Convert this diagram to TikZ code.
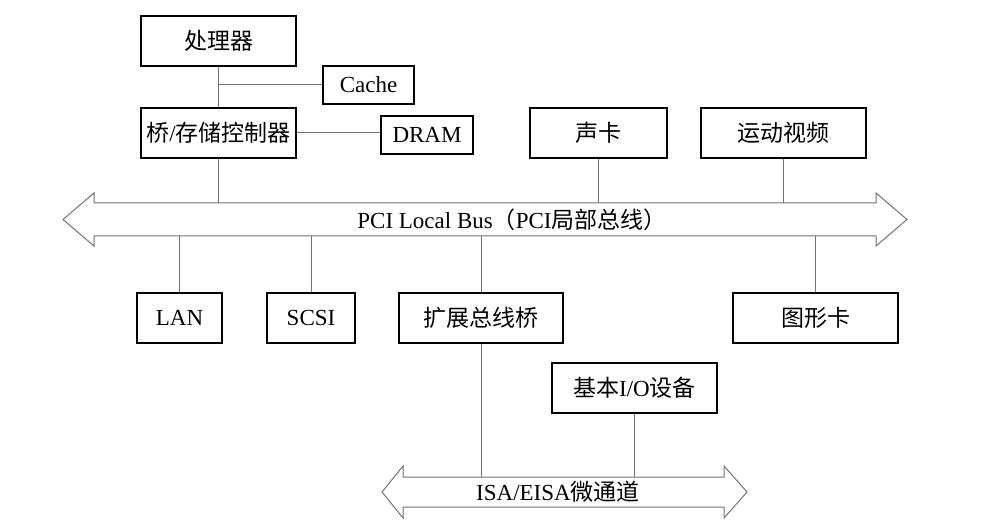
\documentclass[tikz,border=0pt]{standalone}
\usepackage{fontspec}
\setmainfont{Liberation Serif}
\newfontfamily\cjk{Noto Sans CJK SC}
\tikzset{
  box/.style = {draw, line width=2.2pt, inner sep=0pt, align=center},
  link/.style = {draw=black!55, line width=1pt},
  bus/.style = {draw=black!55, line width=1pt, fill=white}
}
\begin{document}
\begin{tikzpicture}[x = 1pt, y = -1pt, font = \fontsize{23}{27}\selectfont]
   \useasboundingbox (0,0) rectangle (1000,529);
   % boxes above the PCI bus
   \node[box, minimum width=155pt, minimum height=50pt] (proc)   at (218.5, 41)  {\cjk 处理器};
   \node[box, minimum width=91pt,  minimum height=38pt] (cache)  at (368.5, 85)  {Cache};
   \node[box, minimum width=155pt, minimum height=50pt] (bridge) at (218.5,133)  {{\cjk 桥}/{\cjk 存储控制器}};
   \node[box, minimum width=92pt,  minimum height=38pt] (dram)   at (427,  135)  {DRAM};
   \node[box, minimum width=137pt, minimum height=50pt] (sound)  at (598.5,133)  {\cjk 声卡};
   \node[box, minimum width=165pt, minimum height=50pt] (video)  at (783.5,133)  {\cjk 运动视频};
   % boxes below the PCI bus
   \node[box, minimum width=85pt,  minimum height=50pt] (lan)    at (179.5,318)  {LAN};
   \node[box, minimum width=88pt,  minimum height=50pt] (scsi)   at (311,  318)  {SCSI};
   \node[box, minimum width=164pt, minimum height=50pt] (expbr)  at (481,  318)  {\cjk 扩展总线桥};
   \node[box, minimum width=165pt, minimum height=50pt] (gfx)    at (815.5,318)  {\cjk 图形卡};
   \node[box, minimum width=165pt, minimum height=50pt] (basicio) at (634.5,388) {{\cjk 基本}I/O{\cjk 设备}};
   % PCI bus
   \draw[bus] (63,219.5) -- (94,193) -- (94,203) -- (876,203) -- (876,193) -- (907,219.5)
      -- (876,246) -- (876,236) -- (94,236) -- (94,246) -- cycle;
   \node (pci) at (512,219.5) {PCI Local Bus{\cjk （}PCI{\cjk 局部总线）}};
   \coordinate (pcitop) at (0,203);
   \coordinate (pcibot) at (0,236);
   % ISA/EISA bus
   \draw[bus] (382,492) -- (403,466) -- (403,477) -- (724,477) -- (724,466) -- (747,492)
      -- (724,518) -- (724,507) -- (403,507) -- (403,518) -- cycle;
   \node (isa) at (558,492) {ISA/EISA{\cjk 微通道}};
   \coordinate (isatop) at (0,477);
   % connectors
   \draw[link] (proc.south) -- (bridge.north);
   \draw[link] (cache.west) -- (proc.south |- cache.west);
   \draw[link] (bridge.east) -- (dram.west |- bridge.east);
   \draw[link] (bridge.south) -- (bridge.south |- pcitop);
   \draw[link] (sound.south) -- (sound.south |- pcitop);
   \draw[link] (video.south) -- (video.south |- pcitop);
   \draw[link] (lan.north) -- (lan.north |- pcibot);
   \draw[link] (scsi.north) -- (scsi.north |- pcibot);
   \draw[link] (expbr.north) -- (expbr.north |- pcibot);
   \draw[link] (gfx.north) -- (gfx.north |- pcibot);
   \draw[link] (expbr.south) -- (expbr.south |- isatop);
   \draw[link] (basicio.south) -- (basicio.south |- isatop);
\end{tikzpicture}
\end{document}
